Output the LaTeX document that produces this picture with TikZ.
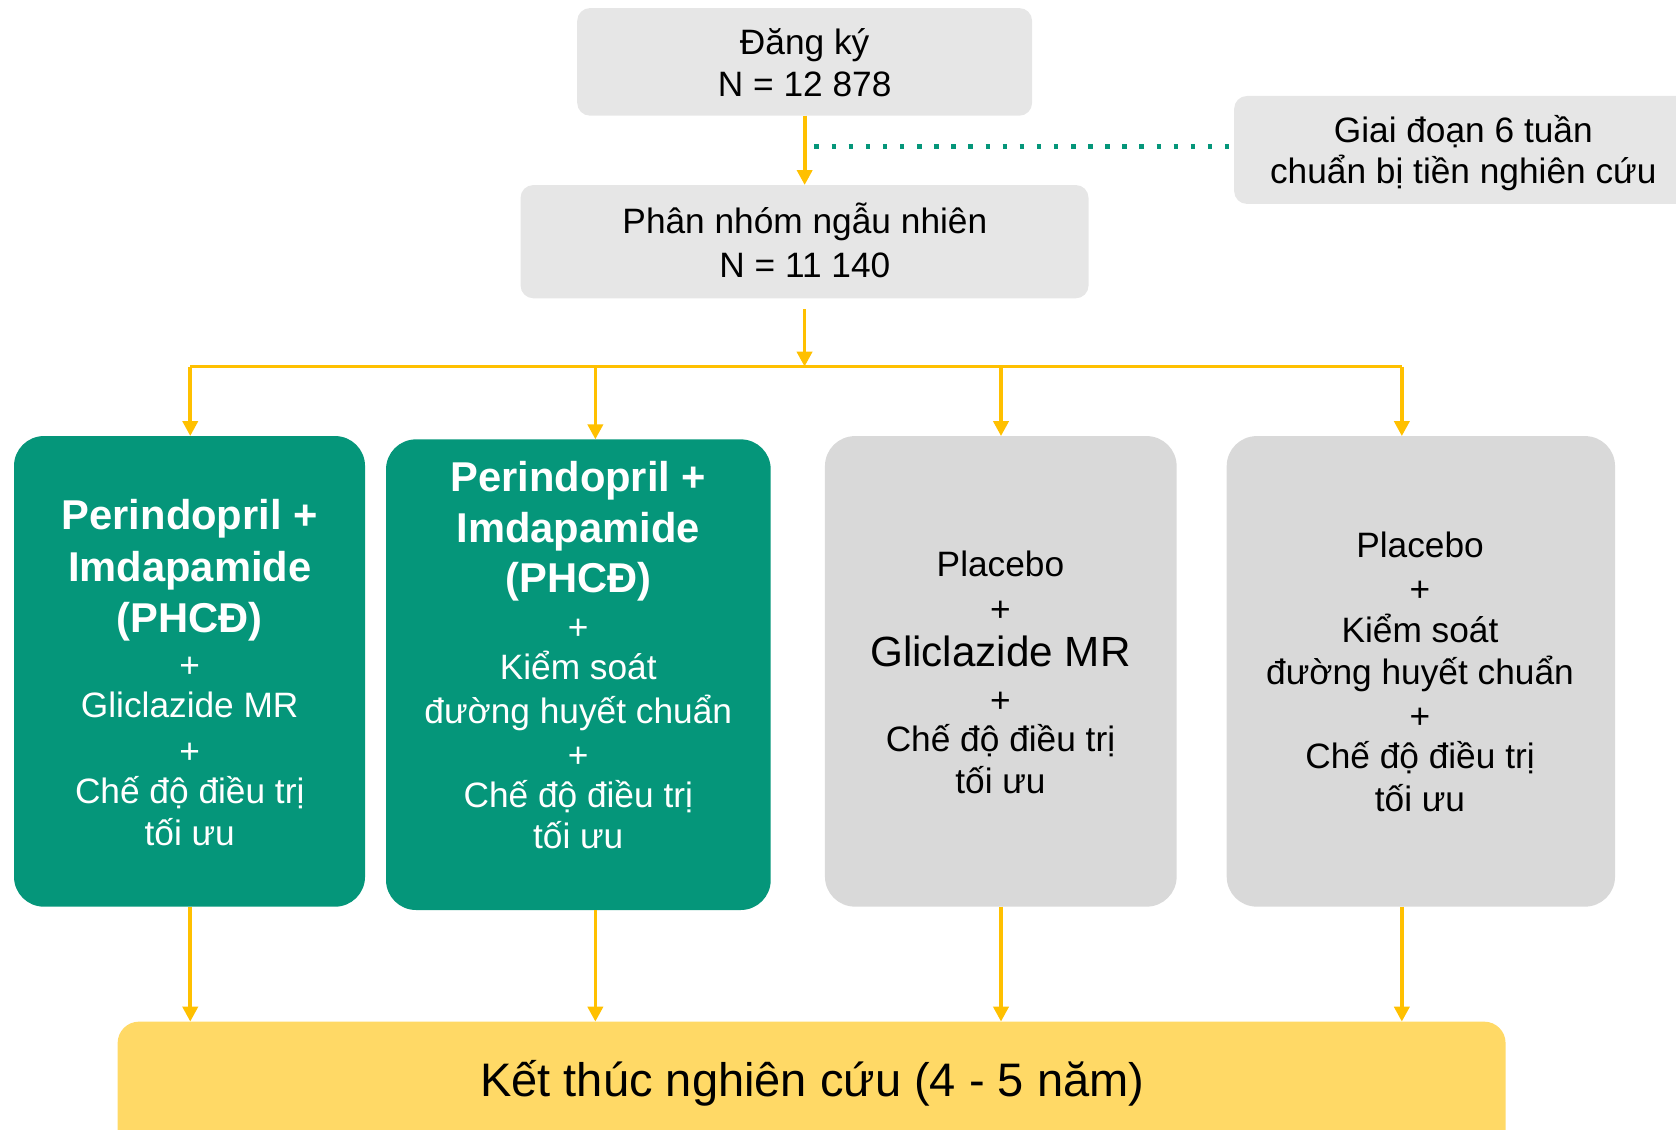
\documentclass[tikz,border=0pt]{standalone}
\usepackage{fontspec}
\setmainfont{Liberation Sans}
\usetikzlibrary{arrows.meta}

\definecolor{armgreen}{HTML}{05967A}
\definecolor{armgray}{HTML}{D9D9D9}
\definecolor{topgray}{HTML}{E6E6E6}
\definecolor{flowyellow}{HTML}{FFC000}
\definecolor{endyellow}{HTML}{FFD966}

\begin{document}
\begin{tikzpicture}[x=1pt,y=-1pt,
  shape box/.style={rectangle, draw=none, inner sep=0pt, outer sep=0pt},
  topbox/.style={shape box, fill=topgray, rounded corners=12pt},
  greenarm/.style={shape box, fill=armgreen, rounded corners=28pt},
  grayarm/.style={shape box, fill=armgray, rounded corners=28pt},
  endbox/.style={shape box, fill=endyellow, rounded corners=20pt},
  line txt/.style={anchor=base, inner sep=0pt, outer sep=0pt},
  regular/.style={line txt, font=\fontsize{33}{40}\selectfont},
  bigreg/.style={line txt, font=\fontsize{39.5}{47}\selectfont},
  boldhead/.style={line txt, font=\fontsize{39}{47}\selectfont\bfseries, text=white},
  flowline/.style={draw=flowyellow, line width=3.5pt},
  flow/.style={flowline, -{Triangle[length=14pt,width=14pt]}},
  dotline/.style={draw=armgreen, line width=4.2pt, dash pattern=on 4.2pt off 11.8pt}
]
\useasboundingbox (0,0) rectangle (1568,1057);

% ---- boxes ----
\node[topbox, minimum width=425.6pt, minimum height=100.7pt] (reg) at (752.8,57.9) {};
\node[topbox, minimum width=531.4pt, minimum height=106pt] (rand) at (752.7,226.1) {};
\node[topbox, minimum width=440pt, minimum height=101pt] (runin) at (1374.6,140.3) {};

\node[greenarm, minimum width=328.4pt, minimum height=440.3pt] (arm1) at (177.3,628.1) {};
\node[greenarm, minimum width=359.9pt, minimum height=440.3pt] (arm2) at (541.1,631.2) {};
\node[grayarm,  minimum width=329pt,   minimum height=440.2pt] (arm3) at (936.3,628.1) {};
\node[grayarm,  minimum width=363.3pt, minimum height=440.2pt] (arm4) at (1329.3,628.1) {};

\node[endbox, minimum width=1298.5pt, minimum height=124.2pt] (end) at (759.3,1017.9) {};

% ---- texts of the top boxes ----
\node[regular] (regA) at (752.8,51.3) {Đăng ký};
\node[regular] (regB) at (752.8,90.3) {N = 12 878};
\node[regular] (randA) at (753,218.8) {Phân nhóm ngẫu nhiên};
\node[regular] (randB) at (753,259.3) {N = 11 140};
\node[regular] (runA) at (1369,133) {Giai đoạn 6 tuần};
\node[regular] (runB) at (1369,171.3) {chuẩn bị tiền nghiên cứu};

% ---- arm 1 ----
\foreach \t/\y [count=\i] in {Perindopril +/495.7, Imdapamide/543.7, {(PHCĐ)}/591.5}
  \node[boldhead] (a1h\i) at (177.5,\y) {\t};
\foreach \t/\y [count=\i] in {+/634, Gliclazide MR/671.6, +/714.4, Chế độ điều trị/752.1, tối ưu/791}
  \node[regular, text=white] (a1b\i) at (177.5,\y) {\t};

% ---- arm 2 ----
\foreach \t/\y [count=\i] in {Perindopril +/459.8, Imdapamide/507.2, {(PHCĐ)}/554.7}
  \node[boldhead] (a2h\i) at (541,\y) {\t};
\foreach \t/\y [count=\i] in {+/598.5, Kiểm soát/636, đường huyết chuẩn/676.6, +/718.4, Chế độ điều trị/755.2, tối ưu/794.1}
  \node[regular, text=white] (a2b\i) at (541,\y) {\t};

% ---- arm 3 ----
\node[regular] (a3b1) at (936,539) {Placebo};
\node[regular] (a3b2) at (936,581) {+};
\node[bigreg]  (a3b3) at (936,623.5) {Gliclazide MR};
\node[regular] (a3b4) at (936,667) {+};
\node[regular] (a3b5) at (936,703) {Chế độ điều trị};
\node[regular] (a3b6) at (936,742) {tối ưu};

% ---- arm 4 ----
\foreach \t/\y [count=\i] in {Placebo/521.3, +/563, Kiểm soát/600.7, đường huyết chuẩn/640.3, +/682, Chế độ điều trị/719.3, tối ưu/759}
  \node[regular] (a4b\i) at (1328.5,\y) {\t};

% ---- closing box ----
\node[line txt, font=\fontsize{44}{52}\selectfont] (endtxt) at (760,1025.4) {Kết thúc nghiên cứu (4 - 5 năm)};

% ---- connectors ----
\draw[flow] (reg.south) -- (reg.south |- rand.north);
\coordinate (dotA) at (762,137);
\draw[dotline] (dotA) -- (dotA -| runin.west);

\coordinate (split) at (753,343);
\draw[flow, shorten <=10pt] (rand.south) -- (rand.south |- split);

\coordinate (b1) at (178,343);
\coordinate (b2) at (557,343);
\coordinate (b3) at (936.5,343);
\coordinate (b4) at (1311.5,343);
\draw[flowline, line cap=square] (b1) -- (b4);

\draw[flow] (b1) -- (b1 |- arm1.north);
\draw[flow] (b2) -- (b2 |- arm2.north);
\draw[flow] (b3) -- (b3 |- arm3.north);
\draw[flow] (b4) -- (b4 |- arm4.north);

\draw[flow] (b1 |- arm1.south) -- (b1 |- end.north);
\draw[flow] (b2 |- arm2.south) -- (b2 |- end.north);
\draw[flow] (b3 |- arm3.south) -- (b3 |- end.north);
\draw[flow] (b4 |- arm4.south) -- (b4 |- end.north);
\end{tikzpicture}
\end{document}
